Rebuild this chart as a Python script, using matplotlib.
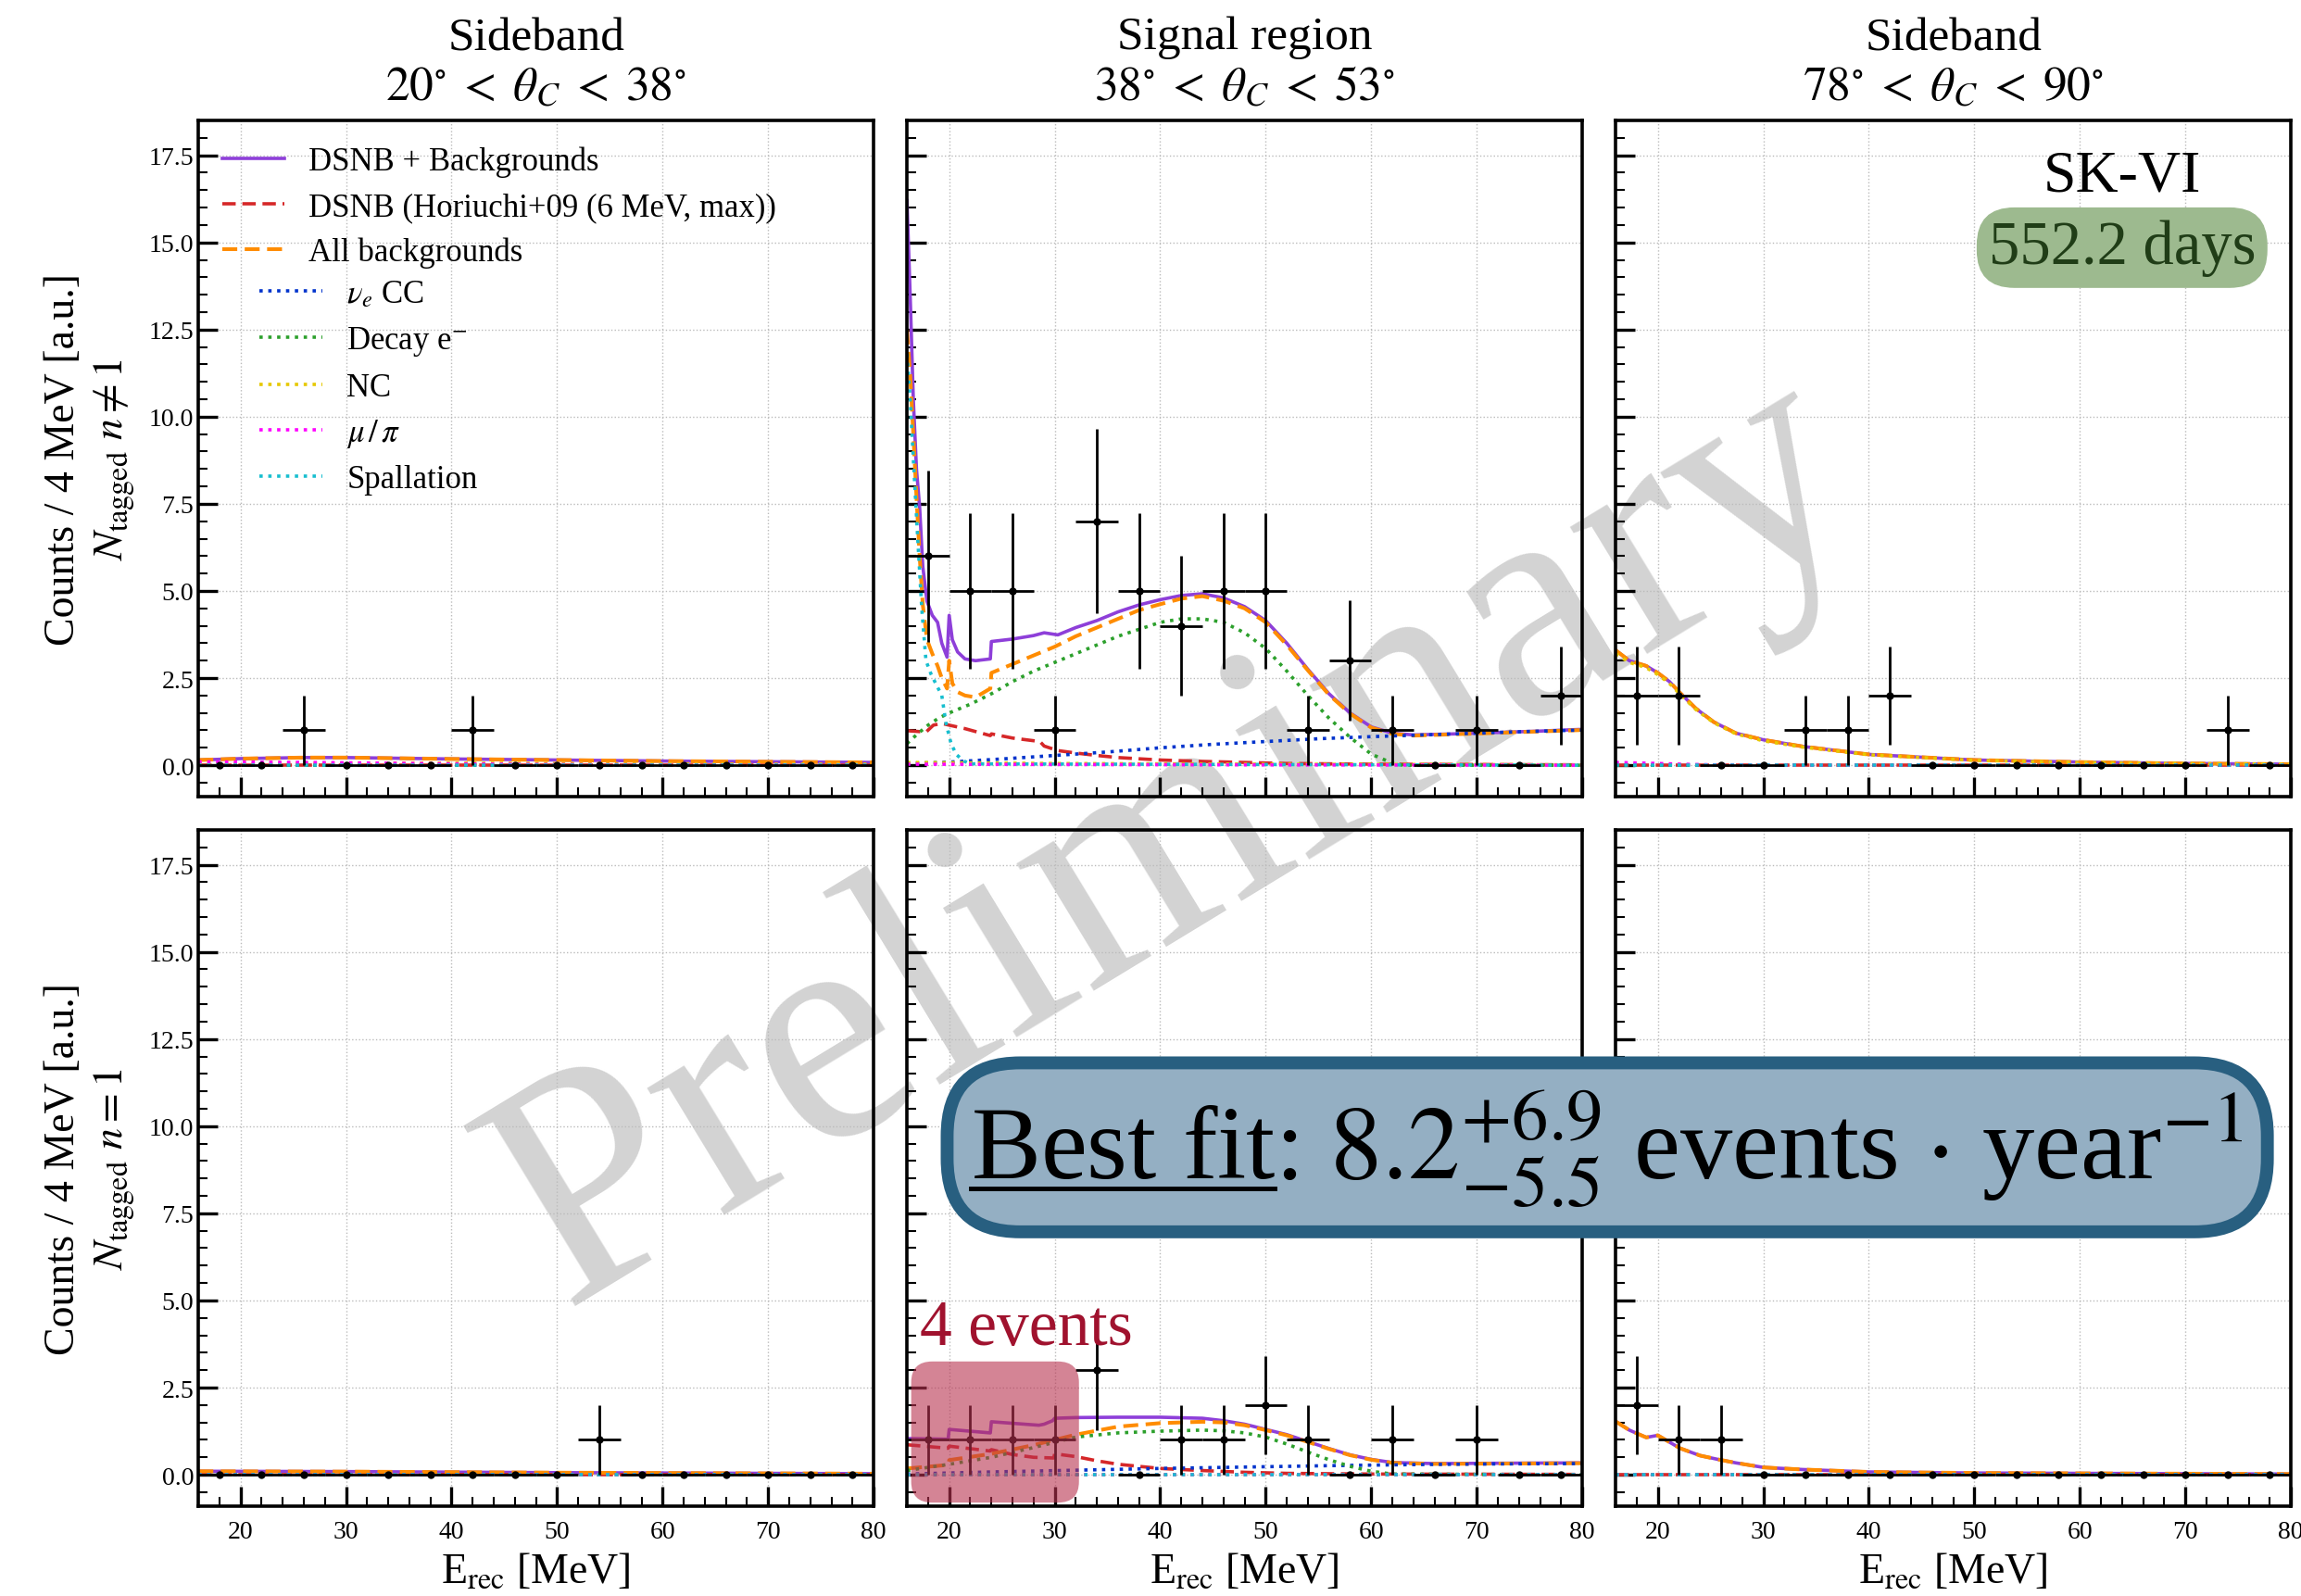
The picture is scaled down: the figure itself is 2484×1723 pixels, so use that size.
import numpy as np
import matplotlib
matplotlib.use("Agg")
import matplotlib.pyplot as plt
from matplotlib.patches import FancyBboxPatch
from matplotlib.lines import Line2D

plt.rcParams['font.family'] = ['Liberation Serif', 'DejaVu Serif']
plt.rcParams['mathtext.fontset'] = 'stix'

## 4 MeV bin centres and observed counts ##
e_bins = [18, 22, 26, 30, 34, 38, 42, 46, 50, 54, 58, 62, 66, 70, 74, 78]
n_sb1_A = [0, 0, 1, 0, 0, 0, 1, 0, 0, 0, 0, 0, 0, 0, 0, 0]
n_sig_A = [6, 5, 5, 1, 7, 5, 4, 5, 5, 1, 3, 1, 0, 1, 0, 2]
n_sb2_A = [2, 2, 0, 0, 1, 1, 2, 0, 0, 0, 0, 0, 0, 0, 1, 0]
n_sb1_B = [0, 0, 0, 0, 0, 0, 0, 0, 0, 1, 0, 0, 0, 0, 0, 0]
n_sig_B = [1, 1, 1, 1, 3, 0, 1, 1, 2, 1, 0, 1, 0, 1, 0, 0]
n_sb2_B = [2, 1, 1, 0, 0, 0, 0, 0, 0, 0, 0, 0, 0, 0, 0, 0]

## model curves ##
flat_E = [16, 80]
flat_y = [0.0, 0.0]

# signal region, N_tagged n != 1
sigA_E_tot = [16.0, 16.3, 16.6, 16.9, 17.2, 17.5, 17.9, 18.4, 18.9, 19.3, 19.8, 20.0, 20.3, 20.8, 21.5, 22.5, 23.9, 24.0,
              26, 28, 29, 30.3, 32, 34, 36, 38, 40, 42, 44, 46, 48, 50, 52, 54, 56, 58, 60, 62, 64, 68, 72, 76, 80]
sigA_tot = [16.2, 13.5, 10.5, 8.5, 7.4, 5.7, 4.7, 4.3, 4.1, 3.5, 3.1, 4.3, 3.6, 3.25, 3.05, 3.0, 3.05, 3.55,
            3.62, 3.72, 3.8, 3.74, 3.95, 4.15, 4.4, 4.6, 4.75, 4.87, 4.92, 4.8, 4.55, 4.15, 3.5, 2.75, 2.05, 1.5, 1.1, 0.92,
            0.87, 0.9, 0.94, 0.98, 1.03]
sigA_E_bkg = [16.0, 16.3, 16.6, 16.9, 17.2, 17.5, 17.9, 18.4, 18.9, 19.3, 19.8, 20.0, 20.3, 20.8, 21.5, 22.5, 23.9, 24.0,
              26, 28, 30, 32, 34, 36, 38, 40, 42, 44, 46, 48, 50, 52, 54, 56, 58, 60, 62, 64, 68, 72, 76, 80]
sigA_bkg = [12.5, 11.2, 9.5, 7.7, 6.0, 4.6, 3.6, 3.2, 2.85, 2.5, 2.2, 3.0, 2.35, 2.1, 2.0, 1.95, 2.2, 2.65,
            2.9, 3.15, 3.4, 3.7, 3.95, 4.2, 4.45, 4.62, 4.78, 4.85, 4.72, 4.5, 4.1, 3.45, 2.72, 2.02, 1.48, 1.08, 0.9,
            0.85, 0.89, 0.93, 0.97, 1.01]
sigA_E_dsnb = [16, 17, 17.8, 18.5, 19.3, 20, 21.5, 23.9, 24.0, 26, 28.6, 29, 30.3, 32, 34, 36, 40, 44, 48, 52, 56, 60, 70, 80]
sigA_dsnb = [0.99, 0.97, 0.95, 1.15, 1.2, 1.15, 1.05, 0.85, 0.9, 0.78, 0.68, 0.55, 0.42, 0.35, 0.28, 0.22, 0.15, 0.11,
             0.08, 0.05, 0.04, 0.03, 0.02, 0.01]
sigA_E_cc = [16, 20, 25, 30, 35, 40, 45, 50, 55, 60, 65, 70, 75, 80]
sigA_cc = [0.05, 0.09, 0.18, 0.28, 0.38, 0.5, 0.6, 0.68, 0.76, 0.82, 0.87, 0.92, 0.97, 1.01]
sigA_E_decay = [16, 17, 18, 19, 20, 22, 24, 26, 28, 30, 32, 34, 36, 38, 40, 42, 44, 46, 48, 50, 52, 54, 56, 58, 60, 62, 63, 80]
sigA_decay = [0.62, 0.9, 1.15, 1.35, 1.5, 1.75, 2.05, 2.4, 2.7, 2.95, 3.2, 3.45, 3.7, 3.9, 4.1, 4.2, 4.2, 4.1, 3.8, 3.35,
              2.7, 2.0, 1.35, 0.8, 0.32, 0.06, 0.0, 0.0]
sigA_E_spall = [16, 16.3, 16.6, 17.0, 17.4, 17.8, 18.3, 18.8, 19.3, 19.7, 20.2, 20.7, 21.4, 22, 80]
sigA_spall = [11.8, 10.5, 8.8, 6.6, 4.5, 3.0, 2.6, 2.3, 2.0, 1.2, 0.6, 0.3, 0.12, 0.04, 0.0]
sigA_E_nc = [16, 30, 50, 80]
sigA_nc = [0.08, 0.05, 0.03, 0.01]
sigA_mupi = [0.03, 0.02, 0.01, 0.0]

# signal region, N_tagged n = 1
sigB_E_tot = [16, 19.9, 20.0, 23.9, 24.0, 28.5, 29.0, 29.8, 30.0, 32, 36, 40, 44, 46, 48, 50, 52, 54, 56, 58, 60, 62, 66, 72, 80]
sigB_tot = [1.04, 1.02, 1.3, 1.2, 1.52, 1.42, 1.45, 1.55, 1.62, 1.64, 1.65, 1.65, 1.62, 1.55, 1.45, 1.3, 1.15, 0.95,
            0.75, 0.57, 0.44, 0.35, 0.32, 0.33, 0.34]
sigB_E_bkg = [16, 19.9, 20.0, 24, 28, 32, 36, 40, 44, 46, 48, 50, 52, 54, 56, 58, 60, 62, 66, 72, 80]
sigB_bkg = [0.18, 0.28, 0.42, 0.6, 0.85, 1.15, 1.38, 1.48, 1.52, 1.5, 1.42, 1.28, 1.13, 0.94, 0.74, 0.56, 0.43, 0.34,
            0.31, 0.32, 0.33]
sigB_E_dsnb = [16, 19.9, 20.0, 23.9, 24.0, 26, 28, 29.9, 30.0, 32, 34, 36, 40, 44, 48, 52, 60, 80]
sigB_dsnb = [0.86, 0.76, 0.82, 0.68, 0.72, 0.58, 0.5, 0.48, 0.6, 0.52, 0.4, 0.3, 0.18, 0.12, 0.07, 0.04, 0.02, 0.01]
sigB_E_decay = [16, 20, 24, 28, 32, 36, 40, 44, 46, 48, 50, 52, 54, 56, 58, 60, 62, 80]
sigB_decay = [0.12, 0.3, 0.5, 0.78, 1.08, 1.2, 1.25, 1.28, 1.26, 1.2, 1.08, 0.88, 0.65, 0.43, 0.24, 0.1, 0.02, 0.0]
sigB_E_cc = [16, 24, 32, 40, 48, 56, 64, 72, 80]
sigB_cc = [0.02, 0.08, 0.13, 0.18, 0.22, 0.26, 0.29, 0.31, 0.32]

# sideband 20-38 deg
sb1A_E = [16, 20, 26, 30, 40, 50, 60, 70, 80]
sb1A_bkg = [0.15, 0.19, 0.22, 0.22, 0.18, 0.15, 0.12, 0.1, 0.08]
sb1A_mupi = [0.1, 0.09, 0.08, 0.07, 0.04, 0.02, 0.01, 0.01, 0.0]
sb1A_nc = [0.04, 0.05, 0.06, 0.06, 0.06, 0.05, 0.04, 0.03, 0.03]
sb1B_E = [16, 30, 50, 80]
sb1B_bkg = [0.1, 0.09, 0.06, 0.03]

# sideband 78-90 deg
sb2A_E = [16, 17.3, 18.9, 20, 21.1, 22.1, 23.6, 25.3, 27.4, 30, 33.7, 40, 50, 60, 70, 80]
sb2A_bkg = [3.3, 3.0, 2.85, 2.65, 2.4, 2.08, 1.63, 1.24, 0.92, 0.73, 0.54, 0.31, 0.15, 0.09, 0.05, 0.03]
sb2A_nc = [3.2, 2.95, 2.8, 2.6, 2.35, 2.04, 1.6, 1.22, 0.9, 0.7, 0.52, 0.3, 0.14, 0.08, 0.05, 0.03]
sb2A_mupi = [0.08, 0.07, 0.06, 0.05, 0.04, 0.03, 0.02, 0.01, 0.01, 0.0, 0.0, 0.0, 0.0, 0.0, 0.0, 0.0]
sb2B_E = [16, 17.3, 18.9, 20, 22.1, 24, 25.7, 27.4, 30, 33.7, 40, 50, 80]
sb2B_bkg = [1.53, 1.28, 1.07, 1.13, 0.76, 0.55, 0.44, 0.34, 0.21, 0.15, 0.08, 0.05, 0.02]

titles = ["Sideband\n$20^{\\circ}\\;<\\;\\theta_C\\;<\\;38^{\\circ}$",
          "Signal region\n$38^{\\circ}\\;<\\;\\theta_C\\;<\\;53^{\\circ}$",
          "Sideband\n$78^{\\circ}\\;<\\;\\theta_C\\;<\\;90^{\\circ}$"]
row_labels = ["Counts / 4 MeV [a.u.]\n$N_{\\rm tagged}\\ n \\neq 1$",
              "Counts / 4 MeV [a.u.]\n$N_{\\rm tagged}\\ n = 1$"]

styles = {
    'tot':   dict(color='#8e3fd9', ls='-', lw=2.6, label='DSNB + Backgrounds'),
    'dsnb':  dict(color='#d62728', ls=(0, (4, 2)), lw=2.6, label='DSNB (Horiuchi+09 (6 MeV, max))'),
    'bkg':   dict(color='#ff8c00', ls=(0, (4, 2)), lw=2.9, label='All backgrounds'),
    'cc':    dict(color='#0033cc', ls=':', lw=2.6, label=r'$\nu_e$ CC'),
    'decay': dict(color='#2ca02c', ls=':', lw=2.6, label=r'Decay e$^{-}$'),
    'nc':    dict(color='#e6c800', ls=':', lw=2.6, label='NC'),
    'mupi':  dict(color='#ff00ff', ls=':', lw=2.6, label=r'$\mu\,/\,\pi$'),
    'spall': dict(color='#17becf', ls=':', lw=2.6, label='Spallation'),
}
order = ['tot', 'dsnb', 'bkg', 'cc', 'decay', 'nc', 'mupi', 'spall']

panels = [
    [(n_sb1_A, {'tot': (sb1A_E, sb1A_bkg), 'bkg': (sb1A_E, sb1A_bkg), 'nc': (sb1A_E, sb1A_nc), 'mupi': (sb1A_E, sb1A_mupi)}),
     (n_sig_A, {'tot': (sigA_E_tot, sigA_tot), 'dsnb': (sigA_E_dsnb, sigA_dsnb), 'bkg': (sigA_E_bkg, sigA_bkg),
                'cc': (sigA_E_cc, sigA_cc), 'decay': (sigA_E_decay, sigA_decay), 'nc': (sigA_E_nc, sigA_nc),
                'mupi': (sigA_E_nc, sigA_mupi), 'spall': (sigA_E_spall, sigA_spall)}),
     (n_sb2_A, {'tot': (sb2A_E, sb2A_bkg), 'bkg': (sb2A_E, sb2A_bkg), 'nc': (sb2A_E, sb2A_nc), 'mupi': (sb2A_E, sb2A_mupi)})],
    [(n_sb1_B, {'tot': (sb1B_E, sb1B_bkg), 'bkg': (sb1B_E, sb1B_bkg)}),
     (n_sig_B, {'tot': (sigB_E_tot, sigB_tot), 'dsnb': (sigB_E_dsnb, sigB_dsnb), 'bkg': (sigB_E_bkg, sigB_bkg),
                'cc': (sigB_E_cc, sigB_cc), 'decay': (sigB_E_decay, sigB_decay)}),
     (n_sb2_B, {'tot': (sb2B_E, sb2B_bkg), 'bkg': (sb2B_E, sb2B_bkg)})],
]

fig, axes = plt.subplots(2, 3, figsize=(24.84, 17.24), dpi=100)
fig.patch.set_facecolor('white')
plt.subplots_adjust(left=0.0862, right=0.9956, top=0.924, bottom=0.0563, wspace=0.0494, hspace=0.0493)

for r in range(2):
    for c in range(3):
        ax = axes[r, c]
        counts, curves = panels[r][c]
        ax.patch.set_alpha(0)
        for key in order:
            E, y = curves.get(key, (flat_E, flat_y))
            ax.plot(E, y, zorder=2, **styles[key])
        cnt = np.array(counts, dtype=float)
        ax.errorbar(e_bins, cnt, xerr=2, yerr=np.sqrt(cnt), fmt='o', color='k', ms=5,
                    elinewidth=2.0, capsize=0, zorder=5)
        ax.set_xlim(16, 80)
        ax.set_ylim(-0.9, 18.5)
        ax.set_xticks(np.arange(20, 81, 10))
        ax.set_xticks(np.arange(16, 81, 2), minor=True)
        ax.set_yticks(np.arange(0, 18, 2.5))
        ax.set_yticks(np.arange(-0.5, 18.5, 0.5), minor=True)
        ax.grid(True, which='major', ls=':', color='#bbbbbb', lw=1.0)
        ax.tick_params(which='both', direction='in', top=False, right=False, labelsize=20)
        ax.tick_params(which='major', length=15, width=2.4)
        ax.tick_params(which='minor', length=7, width=1.5)
        ax.tick_params(axis='x', which='major', pad=11)
        for s in ax.spines.values():
            s.set_linewidth(2.6)
        if c != 0:
            ax.set_yticklabels([])
        else:
            ax.set_yticklabels([f"{v:.1f}" for v in np.arange(0, 18, 2.5)])
            ax.set_ylabel(row_labels[r], fontsize=33, labelpad=10, linespacing=1.25)
        if r == 0:
            ax.set_xticklabels([])
            ax.set_title(titles[c], fontsize=37, pad=16, linespacing=1.2)
        else:
            ax.set_xlabel(r"E$_{\rm rec}$ [MeV]", fontsize=33, labelpad=6)

## legend: main three entries, then the indented components
ax0 = axes[0, 0]
h_main = [Line2D([], [], **styles[k]) for k in order[:3]]
h_sub = [Line2D([], [], **styles[k]) for k in order[3:]]
leg_kw = dict(loc='upper left', frameon=False, fontsize=25, handlelength=1.95, handletextpad=0.75,
              borderaxespad=0, borderpad=0, labelspacing=0.45)
leg1 = ax0.legend(handles=h_main, bbox_to_anchor=(0.035, 0.962), **leg_kw)
ax0.add_artist(leg1)
ax0.legend(handles=h_sub, bbox_to_anchor=(0.091, 0.765), **leg_kw)

## SK-VI live time
axr = axes[0, 2]
axr.text(64, 16.9, "SK-VI", fontsize=46, ha='center', va='center', zorder=8)
axr.text(64, 14.85, "552.2 days", fontsize=48, ha='center', va='center', color='#203d17', zorder=8,
         bbox=dict(boxstyle='round,pad=0.18,rounding_size=0.6', fc='#9dba8f', ec='#9dba8f'))

## 4 events highlight
axm = axes[1, 1]
axm.add_patch(FancyBboxPatch((16.4, -0.8), 15.9, 4.05, boxstyle='round,pad=0,rounding_size=2.0',
                             mutation_aspect=0.3, fc='#b8324f', ec='none', alpha=0.6, zorder=7))
axm.text(17.2, 3.75, "4 events", fontsize=50, color='#a0122e', ha='left', va='baseline', zorder=8)

## watermark
fig.text(0.512, 0.472, "Preliminary", fontsize=252, color='#d3d3d3', rotation=31.3,
         ha='center', va='center', zorder=-1)

## best fit box
best = fig.text(0.6985, 0.2622, r"Best fit: $8.2^{+6.9}_{-5.5}$ events $\cdot$ year$^{-1}$", fontsize=81,
                ha='center', va='baseline', zorder=10,
                bbox=dict(boxstyle='round,pad=0.23,rounding_size=0.7', fc='#94afc3', ec='#285f80', lw=10))
fig.canvas.draw()
rend = fig.canvas.get_renderer()
tmp = fig.text(0, 0, "Best fit", fontsize=81)
w_px = tmp.get_window_extent(renderer=rend).width
tmp.remove()
x0_px = best.get_window_extent(renderer=rend).x0
inv = fig.transFigure.inverted()
(xa, _), (xb, _) = inv.transform([(x0_px, 0), (x0_px + w_px, 0)])
fig.add_artist(Line2D([xa, xb], [0.2555, 0.2555], color='k', lw=3.5, transform=fig.transFigure, zorder=11))

plt.savefig("out.png", dpi=100)
